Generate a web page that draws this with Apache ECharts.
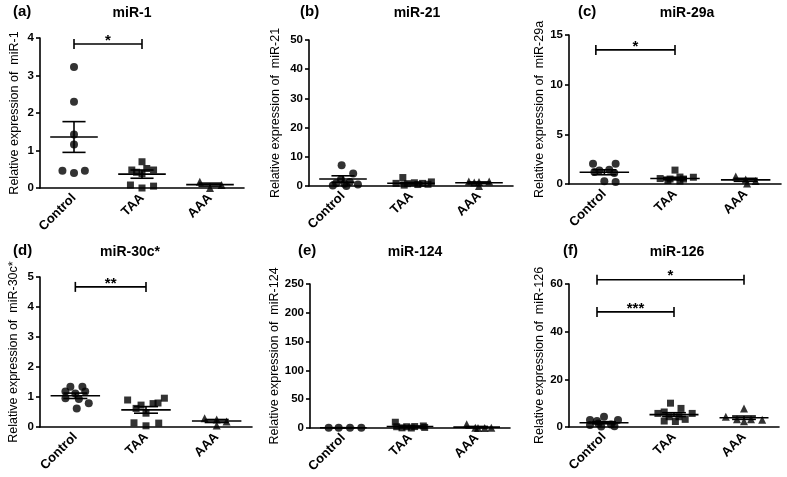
<!DOCTYPE html>
<html>
<head>
<meta charset="utf-8">
<script src="https://cdn.jsdelivr.net/npm/echarts@6/dist/echarts.min.js"></script>
<style>
  html, body { margin: 0; padding: 0; background: #fff; }
  #chart { width: 787px; height: 477px; }
</style>
</head>
<body>
<div id="chart"></div>
<script>
// ---- data ----
var groups = ['Control', 'TAA', 'AAA'];
var panelTags = ['(a)', '(b)', '(c)', '(d)', '(e)', '(f)'];
var mirNames = ['miR-1', 'miR-21', 'miR-29a', 'miR-30c*', 'miR-124', 'miR-126'];
var yMax = [4, 50, 15, 5, 250, 60];
var yStep = [1, 10, 5, 1, 50, 20];

// relative expression per group: [Control, TAA, AAA]
var mir1Values = [
  [3.23, 2.3, 1.43, 1.16, 0.46, 0.4, 0.46],
  [0.7, 0.48, 0.42, 0.52, 0.48, 0.38, 0.08, 0.0, 0.05],
  [0.17, 0.0, 0.08]
];
var mir21Values = [
  [7.1, 4.3, 2.2, 0.9, 0.8, 1.4, 0.5, 0.2, 0.0],
  [2.9, 0.9, 0.8, 1.1, 0.9, 1.4, 0.3, 0.5, 0.6],
  [1.5, 1.4, 1.5, 0.0, 1.2]
];
var mir29aValues = [
  [2.05, 2.05, 1.36, 1.43, 1.2, 1.1, 0.28, 0.2],
  [1.4, 0.55, 0.5, 0.7, 0.68, 0.35, 0.3, 0.5],
  [0.75, 0.45, 0.3, 0.05]
];
var mir30cValues = [
  [1.34, 1.34, 1.18, 1.12, 1.18, 0.96, 0.93, 0.79, 0.62],
  [0.9, 0.96, 0.73, 0.78, 0.8, 0.62, 0.46, 0.14, 0.04, 0.13],
  [0.29, 0.25, 0.18, 0.05]
];
var mir124Values = [
  [0.5, 0.5, 0.5, 0.5],
  [10, 2.2, 2.2, 2.5, 3.5, 1.0, 0.3, 0.0],
  [6.4, 0.5, 0.0, 0.0, 0.3]
];
var mir126Values = [
  [4.3, 2.9, 2.5, 2.9, 1.5, 1.1, 0.8, 0.2, 0.3],
  [10, 5.7, 6.3, 7.8, 5.7, 4.3, 4.3, 2.5, 2.3, 3.2],
  [7.8, 4.3, 3.3, 3.3, 3.0, 2.4]
];

// horizontal scatter of each dot, in category units
var mir1Jitter = [
  [0, 0, 0, 0, -0.17, 0, 0.16],
  [0, -0.15, -0.08, 0.07, 0.17, 0, -0.17, 0, 0.17],
  [-0.15, 0, 0.17]
];
var mir21Jitter = [
  [-0.02, 0.15, -0.03, -0.1, 0.02, 0.1, 0.22, -0.15, 0.05],
  [-0.12, -0.22, -0.05, 0.05, 0.17, 0.3, -0.1, 0.1, 0.25],
  [-0.15, 0, 0.15, 0, -0.07]
];
var mir29aJitter = [
  [-0.16, 0.16, -0.07, 0.07, -0.14, 0.14, 0, 0.16],
  [0, -0.21, -0.07, 0.07, 0.26, -0.1, 0.07, 0.12],
  [-0.14, 0, 0.14, 0.02]
];
var mir30cJitter = [
  [-0.07, 0.1, -0.14, 0, 0.14, -0.14, 0.05, 0.19, 0.02],
  [-0.26, 0.26, -0.07, 0.1, 0.17, -0.14, 0, -0.17, 0, 0.18],
  [-0.17, 0, 0.14, 0]
];
var mir124Jitter = [
  [-0.22, -0.07, 0.1, 0.27],
  [-0.22, -0.2, -0.05, 0.07, 0.2, 0.22, -0.12, 0.02],
  [-0.15, -0.02, 0.12, 0.02, 0.22]
];
var mir126Jitter = [
  [0, -0.2, -0.1, 0.2, -0.08, 0.1, -0.2, -0.04, 0.15],
  [-0.05, -0.23, -0.14, 0.1, 0.26, -0.07, 0.07, -0.14, 0.02, 0.16],
  [0, -0.26, -0.1, 0.1, 0.26, 0]
];

// mean and SEM per group
var means = [
  [1.36, 0.37, 0.09], [2.4, 0.95, 1.1], [1.18, 0.55, 0.42],
  [1.04, 0.57, 0.2], [0.5, 2.5, 1.5], [1.8, 5.2, 3.9]
];
var sems = [
  [0.41, 0.11, 0.04], [1.1, 0.25, 0.3], [0.25, 0.13, 0.15],
  [0.09, 0.11, 0.05], [0.1, 1.0, 1.2], [0.45, 0.8, 0.7]
];

// significance brackets: [from group, to group, level, stars]
var sigBars = [
  [[0, 1, 3.84, '*']],
  [],
  [[-0.12, 1, 13.5, '*']],
  [[0, 1, 4.67, '**']],
  [],
  [[-0.1, 1, 48.3, '***'], [-0.1, 2, 61.8, '*']]
];

var allValues = [mir1Values, mir21Values, mir29aValues, mir30cValues, mir124Values, mir126Values];
var allJitter = [mir1Jitter, mir21Jitter, mir29aJitter, mir30cJitter, mir124Jitter, mir126Jitter];

// ---- layout ----
var FONT = "'Liberation Sans', Arial, sans-serif";
var boxes = [
  {left: 40, top: 38, width: 204, height: 150},
  {left: 309, top: 40, width: 204, height: 146},
  {left: 569, top: 35, width: 212, height: 149},
  {left: 40, top: 277, width: 212, height: 150},
  {left: 310, top: 284, width: 200, height: 144},
  {left: 569, top: 284, width: 210, height: 143}
];
var nameGaps = [19, 27, 17, 20, 28, 19];
var tagPos = [[13, 13], [300, 13], [578, 13], [13, 252], [298, 252], [563, 252]];
var namePos = [[132, 13], [417, 13], [687, 13], [130, 252], [415, 252], [677, 252]];
var symbols = ['circle', 'rect', 'triangle'];
var symbolSizes = [8, 7, 8];

function renderMean(params, api) {
  var k = api.value(0), m = api.value(1), s = api.value(2);
  var c = api.coord([k, m]);
  var lo = api.coord([k, m - s]);
  var hi = api.coord([k, m + s]);
  var w = api.size([1, 0])[0];
  var st = {stroke: '#000', lineWidth: 1.6};
  return {
    type: 'group',
    children: [
      {type: 'line', shape: {x1: c[0] - 0.35 * w, y1: c[1], x2: c[0] + 0.35 * w, y2: c[1]}, style: st},
      {type: 'line', shape: {x1: c[0], y1: lo[1], x2: c[0], y2: hi[1]}, style: st},
      {type: 'line', shape: {x1: c[0] - 0.17 * w, y1: lo[1], x2: c[0] + 0.17 * w, y2: lo[1]}, style: st},
      {type: 'line', shape: {x1: c[0] - 0.17 * w, y1: hi[1], x2: c[0] + 0.17 * w, y2: hi[1]}, style: st}
    ]
  };
}

function makeSigRenderer(bars) {
  return function (params, api) {
    var bar = bars[params.dataIndex];
    var a = api.coord([bar[0], bar[2]]);
    var b = api.coord([bar[1], bar[2]]);
    var st = {stroke: '#000', lineWidth: 1.6};
    return {
      type: 'group',
      children: [
        {type: 'line', shape: {x1: a[0], y1: a[1], x2: b[0], y2: b[1]}, style: st},
        {type: 'line', shape: {x1: a[0], y1: a[1] - 5, x2: a[0], y2: a[1] + 5}, style: st},
        {type: 'line', shape: {x1: b[0], y1: b[1] - 5, x2: b[0], y2: b[1] + 5}, style: st},
        {type: 'text', style: {
          x: (a[0] + b[0]) / 2, y: a[1] + 4, text: bar[3],
          textAlign: 'center', textVerticalAlign: 'bottom',
          fill: '#000', font: 'bold 15px ' + FONT
        }}
      ]
    };
  };
}

var grids = [], xAxes = [], yAxes = [], series = [], graphics = [];

for (var i = 0; i < 6; i++) {
  grids.push(boxes[i]);
  xAxes.push({
    type: 'category', gridIndex: i, data: groups, boundaryGap: true,
    axisLine: {onZero: false, lineStyle: {color: '#000', width: 1.6}},
    axisTick: {alignWithLabel: true, length: 4, lineStyle: {color: '#000', width: 1.6}},
    axisLabel: {rotate: 45, margin: 8, color: '#000', fontWeight: 'bold', fontSize: 13, fontFamily: FONT},
    splitLine: {show: false}
  });
  xAxes.push({type: 'value', gridIndex: i, min: -0.5, max: 2.5, show: false});
  yAxes.push({
    type: 'value', gridIndex: i, min: 0, max: yMax[i], interval: yStep[i],
    name: 'Relative expression of  ' + mirNames[i],
    nameLocation: 'middle', nameRotate: 90, nameGap: nameGaps[i],
    nameTextStyle: {color: '#000', fontSize: 12.5, fontFamily: FONT},
    axisLine: {show: true, onZero: false, lineStyle: {color: '#000', width: 1.6}},
    axisTick: {show: true, length: 4, lineStyle: {color: '#000', width: 1.6}},
    axisLabel: {color: '#000', fontWeight: 'bold', fontSize: 11.5, margin: 6, fontFamily: FONT},
    splitLine: {show: false}
  });

  for (var g = 0; g < 3; g++) {
    var pts = [];
    for (var p = 0; p < allValues[i][g].length; p++) {
      pts.push([g + allJitter[i][g][p], allValues[i][g][p]]);
    }
    series.push({
      type: 'scatter', xAxisIndex: 2 * i + 1, yAxisIndex: i,
      symbol: symbols[g], symbolSize: symbolSizes[g],
      itemStyle: {color: '#000'}, data: pts, z: 3, clip: false
    });
  }

  var meanData = [];
  for (var g2 = 0; g2 < 3; g2++) meanData.push([g2, means[i][g2], sems[i][g2]]);
  series.push({
    type: 'custom', xAxisIndex: 2 * i + 1, yAxisIndex: i,
    renderItem: renderMean, data: meanData, z: 4, silent: true
  });

  if (sigBars[i].length) {
    var sigData = [];
    for (var q = 0; q < sigBars[i].length; q++) {
      sigData.push([sigBars[i][q][0], sigBars[i][q][2], sigBars[i][q][1]]);
    }
    series.push({
      type: 'custom', xAxisIndex: 2 * i + 1, yAxisIndex: i,
      renderItem: makeSigRenderer(sigBars[i]), data: sigData,
      clip: false, z: 4, silent: true
    });
  }

  graphics.push({
    type: 'text', left: tagPos[i][0], top: tagPos[i][1] - 9,
    style: {text: panelTags[i], fill: '#000', font: 'bold 15px ' + FONT}
  });
  graphics.push({
    type: 'text', x: namePos[i][0], y: namePos[i][1],
    style: {text: mirNames[i], fill: '#000', font: 'bold 14px ' + FONT,
            textAlign: 'center', textVerticalAlign: 'middle'}
  });
}

var chart = echarts.init(document.getElementById('chart'));
chart.setOption({
  animation: false,
  backgroundColor: '#fff',
  textStyle: {fontFamily: FONT},
  grid: grids,
  xAxis: xAxes,
  yAxis: yAxes,
  series: series,
  graphic: graphics
});
</script>
</body>
</html>
